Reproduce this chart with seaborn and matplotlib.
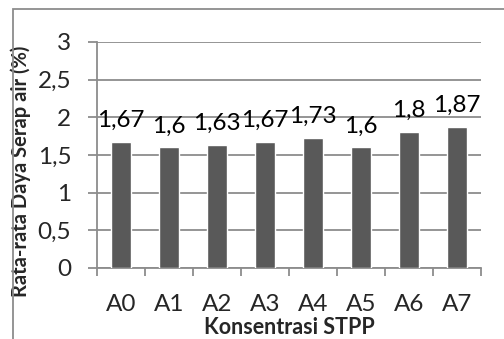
'''
bar chart of mean water absorption per STPP concentration
'''

import matplotlib.pyplot as plt
import matplotlib.patches as patches
import pandas as pd
import seaborn as sns

perlakuan = ['A0', 'A1', 'A2', 'A3', 'A4', 'A5', 'A6', 'A7']
daya_serap = [1.67, 1.6, 1.63, 1.67, 1.73, 1.6, 1.8, 1.87]
label_nilai = ['1,67', '1,6', '1,63', '1,67', '1,73', '1,6', '1,8', '1,87']
y_ticks = [0, 0.5, 1, 1.5, 2, 2.5, 3]
y_ticklabels = ['0', '0,5', '1', '1,5', '2', '2,5', '3']

sns.set_style('white')
plt.rcParams['font.family'] = ['Lato', 'DejaVu Sans']

df = pd.DataFrame({'perlakuan': perlakuan, 'daya_serap': daya_serap})

fig = plt.figure(figsize=(5.04, 3.39), dpi=100)
ax = fig.add_axes([97 / 504, 1 - 268 / 339, (481 - 97) / 504, (268 - 42) / 339])

# outer frame like the excel chart area
fig.patches.append(patches.Rectangle((13 / 504, -0.1), 1.0, 1 - 9 / 339 + 0.1,
                                     transform=fig.transFigure, fill=False,
                                     edgecolor='#8c8c8c', lw=1.3))

sns.barplot(data=df, x='perlakuan', y='daya_serap', color='#595959',
            saturation=1, width=0.4, ax=ax, zorder=3)

for i, (v, lab) in enumerate(zip(daya_serap, label_nilai)):
    ax.annotate(lab, (i, v), xytext=(0, 8), textcoords='offset points',
                ha='center', va='bottom', fontsize=17.5, color='black')

ax.set_ylim(0, 3)
ax.set_xlim(-0.5, 7.5)
ax.set_yticks(y_ticks)
ax.set_yticklabels(y_ticklabels)
ax.yaxis.grid(True, color='#8c8c8c', lw=1.3, zorder=0)
ax.set_axisbelow(True)

for s in ['top', 'right']:
    ax.spines[s].set_visible(False)
for s in ['left', 'bottom']:
    ax.spines[s].set_color('#8c8c8c')
    ax.spines[s].set_linewidth(1.3)

ax.tick_params(axis='y', direction='out', length=6.5, width=1.3, color='#8c8c8c',
               labelsize=17.5, pad=12, left=True)
ax.tick_params(axis='x', which='major', length=0, labelsize=17.5, pad=19)
ax.set_xticks([i - 0.5 for i in range(len(perlakuan) + 1)], minor=True)
ax.tick_params(axis='x', which='minor', direction='out', length=6, width=1.3,
               color='#8c8c8c', bottom=True)

ax.set_xlabel('Konsentrasi STPP', fontsize=15.5, fontweight='bold')
ax.xaxis.set_label_coords(0.5, -0.215)
ax.xaxis.label.set_va('top')
ax.set_ylabel('Rata-rata Daya Serap air (%)', fontsize=14.5, fontweight='bold')
ax.yaxis.set_label_coords(-0.172, 0.43)

fig.savefig('out.png', dpi=100)
